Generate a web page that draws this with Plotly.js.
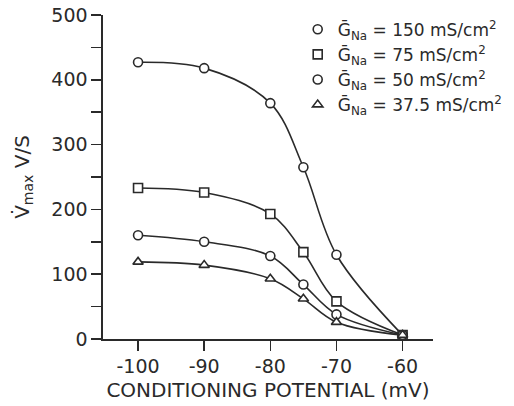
<!DOCTYPE html>
<html><head><meta charset="utf-8">
<script src="https://cdn.plot.ly/plotly-3.0.1.min.js"></script>
<style>body{margin:0;background:#fff}#c{width:514px;height:406px}</style>
</head><body><div id="c"></div>
<script>
const potential = [-100, -90, -80, -75, -70, -60];
const g150 = [427, 418, 364, 265, 130, 6];
const g75 = [233, 226, 193, 134, 58, 6];
const g50 = [160, 150, 128, 84, 38, 6];
const g375 = [119, 114, 93, 62, 26, 6];
const seriesNames = [
  'Ḡ<sub>Na</sub> = 150 mS/cm<sup>2</sup>',
  'Ḡ<sub>Na</sub> = 75 mS/cm<sup>2</sup>',
  'Ḡ<sub>Na</sub> = 50 mS/cm<sup>2</sup>',
  'Ḡ<sub>Na</sub> = 37.5 mS/cm<sup>2</sup>'
];
const xTicks = [-100, -90, -80, -70, -60];
const yTicks = [0, 100, 200, 300, 400, 500];

const ink = '#2a2a2a';
const font = 'DejaVu Sans, Liberation Sans, sans-serif';
const symbols = ['circle', 'square', 'circle', 'triangle-up'];
const sizes = [9, 9, 9, 9];
const series = [g150, g75, g50, g375];
const data = [];
series.forEach((ys, i) => {
  data.push({
    x: potential, y: ys, type: 'scatter', mode: 'lines', showlegend: false,
    line: {color: ink, width: 1.6, shape: 'spline', smoothing: 1}, cliponaxis: false
  });
});
series.forEach((ys, i) => {
  data.push({
    x: potential, y: ys, name: seriesNames[i], type: 'scatter', mode: 'markers',
    marker: {symbol: symbols[i], size: sizes[i], color: '#fff', line: {width: 1.6, color: ink}},
    cliponaxis: false
  });
});

const layout = {
  width: 514, height: 406,
  margin: {l: 103, r: 81, t: 15, b: 67, autoexpand: false},
  paper_bgcolor: '#fff', plot_bgcolor: '#fff',
  font: {family: font, color: ink},
  showlegend: true,
  legend: {x: 0.59, y: 1.01, xanchor: 'left', yanchor: 'top', font: {size: 17, color: ink, family: font},
    bgcolor: 'rgba(0,0,0,0)', itemwidth: 30, tracegroupgap: 0},
  xaxis: {
    range: [-105.3, -55.4], tickvals: xTicks, ticktext: xTicks.map(String),
    ticks: 'outside', ticklen: 10, tickwidth: 1.6, tickcolor: ink,
    showline: true, linecolor: ink, linewidth: 1.6, showgrid: false, zeroline: false,
    tickfont: {size: 19, color: ink},
    title: {text: 'CONDITIONING POTENTIAL (mV)', font: {size: 20, color: ink}, standoff: 6}
  },
  yaxis: {
    range: [0, 500], tickvals: yTicks, ticktext: yTicks.map(String),
    ticks: 'outside', ticklen: 10, tickwidth: 1.6, tickcolor: ink,
    minor: {dtick: 50, ticks: 'outside', ticklen: 10, tickwidth: 1.6, tickcolor: ink, showgrid: false},
    showline: true, linecolor: ink, linewidth: 1.6, showgrid: false, zeroline: false,
    tickfont: {size: 19, color: ink},
    title: {text: 'V̇<sub>max</sub> V/S', font: {size: 20, color: ink}, standoff: 16}
  }
};
Plotly.newPlot('c', data, layout, {staticPlot: true});
</script></body></html>
